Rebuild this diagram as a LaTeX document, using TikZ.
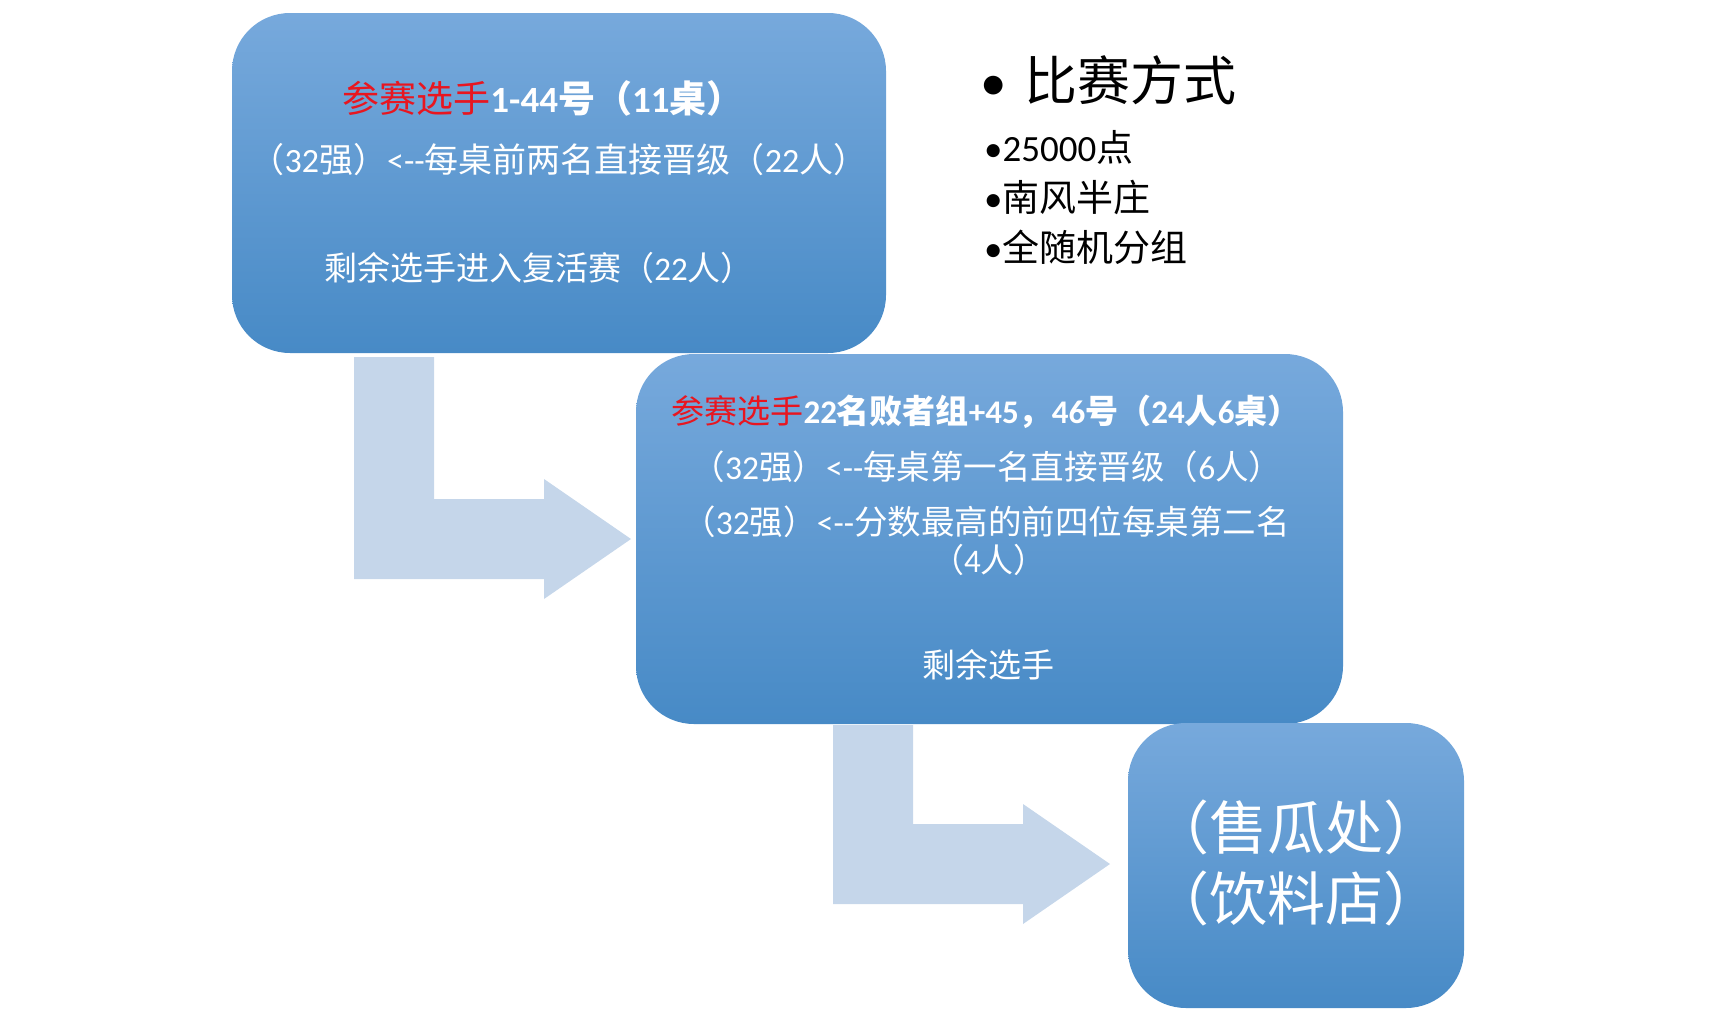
\documentclass[tikz,border=0pt]{standalone}
\usepackage{fontspec}
\setmainfont{Noto Sans CJK SC}
\newfontfamily\lat{Carlito}
\definecolor{hot}{RGB}{232,22,32}
\definecolor{arr}{RGB}{197,214,234}
\definecolor{btop}{RGB}{119,169,220}
\definecolor{bmid}{RGB}{88,155,215}
\definecolor{bbot}{RGB}{71,138,198}
\def\hot#1{\textcolor{hot}{#1}}
\def\ar{{\lat <-{}-}}

\begin{document}
\begin{tikzpicture}[x=1pt, y=-1pt,
    box/.style={rounded corners=58pt, top color=btop, middle color=bmid, bottom color=bbot, inner sep=0pt},
    txt/.style={text=white, inner sep=0pt, font=\fontsize{#1}{#1}\selectfont},
    lst/.style={anchor=west, inner sep=0pt, font=\fontsize{#1}{#1}\selectfont}]
  \useasboundingbox (0,0) rectangle (1730,1009);
  % bent arrows
  \foreach \sx/\sy/\tx/\ty in {354/357/631/539, 833/725/1110/864}{
    \fill[arr] (\sx,\sy) -- ++(80,0) -- (\sx+80,\ty-40) -- (\tx-87,\ty-40) -- ++(0,-20)
      -- (\tx,\ty) -- (\tx-87,\ty+60) -- ++(0,-20) -- (\sx,\ty+40) -- cycle;
  }
  % boxes
  \node[box, minimum width=654pt, minimum height=340pt] (b1) at (559,183) {};
  \node[box, minimum width=707pt, minimum height=370pt] (b2) at (989.5,539) {};
  \node[box, minimum width=336pt, minimum height=285pt] (b3) at (1296,865.5) {};
  % first round
  \node[txt=37] (l11) at (543,98) {\hot{参赛选手}{\bfseries{\lat 1-44}号（{\lat 11}桌）}};
  \node[txt=34] (l12) at (559,160) {（{\lat 32}强）\ar 每桌前两名直接晋级（{\lat 22}人）};
  \node[txt=33] (l13) at (539,268) {剩余选手进入复活赛（{\lat 22}人）};
  % second round
  \node[txt=33] (l21) at (986,412) {\hot{参赛选手}{\bfseries{\lat 22}名败者组{\lat +45}，{\lat 46}号（{\lat 24}人{\lat 6}桌）}};
  \node[txt=33.5] (l22) at (987,467) {（{\lat 32}强）\ar 每桌第一名直接晋级（{\lat 6}人）};
  \node[txt=33.5] (l23) at (986,522) {（{\lat 32}强）\ar 分数最高的前四位每桌第二名};
  \node[txt=33] (l24) at (989,560) {（{\lat 4}人）};
  \node[txt=33] (l25) at (988,665) {剩余选手};
  % last box
  \node[txt=58] (l31) at (1296,827) {（售瓜处）};
  \node[txt=58] (l32) at (1296,898) {（饮料店）};
  % rules
  \node[lst=53] (r0) at (980,80) {{\lat •}\hspace{18pt}比赛方式};
  \foreach \y/\t [count=\i] in {147/{\lat 25000}点, 197/南风半庄, 247/全随机分组}{
    \node[lst=37] (r\i) at (984,\y) {{\lat •}\t};
  }
\end{tikzpicture}
\end{document}
